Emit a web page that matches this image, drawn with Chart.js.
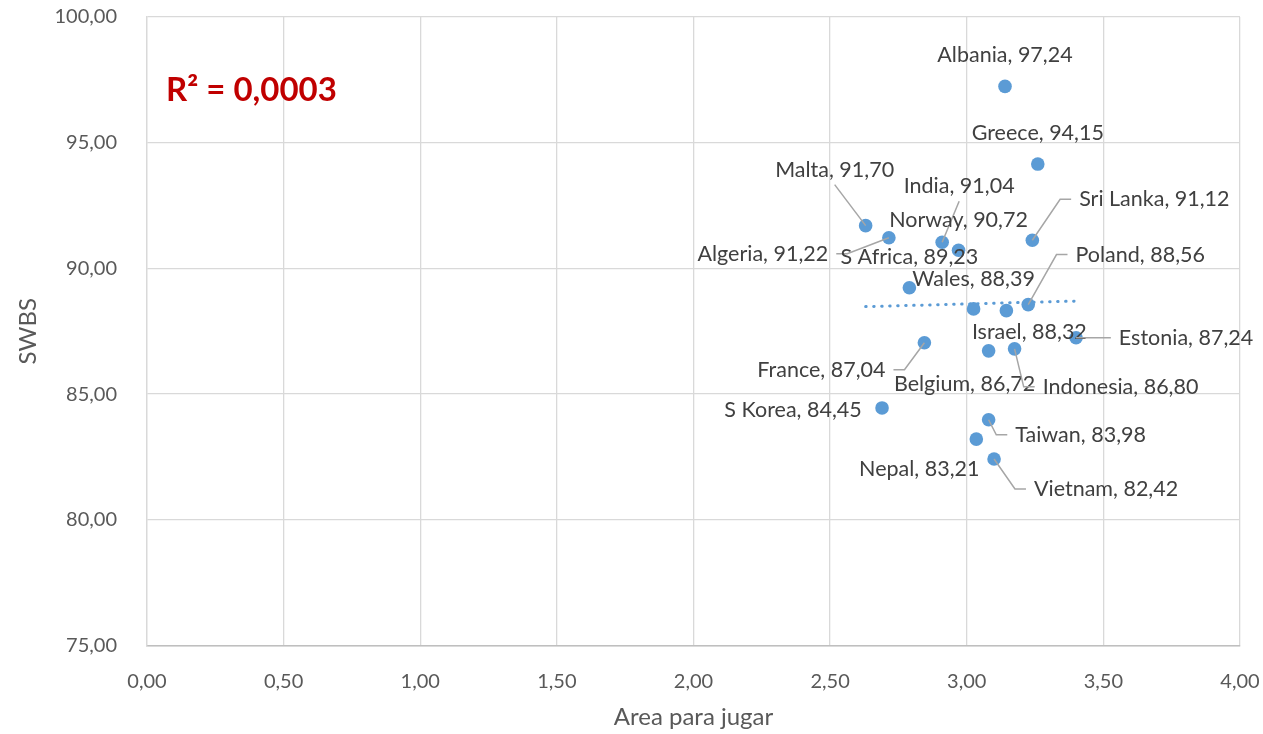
<!DOCTYPE html>
<html>
<head>
<meta charset="utf-8">
<script src="https://cdn.jsdelivr.net/npm/chart.js@4/dist/chart.umd.min.js"></script>
<style>
  html, body { margin: 0; padding: 0; background: #fff; }
  canvas { display: block; }
</style>
</head>
<body>
<canvas id="chart" width="1263" height="734"></canvas>
<script>
const countries = ["Albania", "Greece", "Malta", "Algeria", "India", "Norway", "Sri Lanka",
  "S Africa", "Wales", "Israel", "Poland", "Estonia", "France", "Belgium", "Indonesia",
  "S Korea", "Taiwan", "Nepal", "Vietnam"];
const areaValues = [3.14, 3.26, 2.63, 2.715, 2.91, 2.97, 3.24,
  2.79, 3.025, 3.145, 3.225, 3.40, 2.845, 3.08, 3.175,
  2.69, 3.08, 3.035, 3.10];
const swbsValues = [97.24, 94.15, 91.70, 91.22, 91.04, 90.72, 91.12,
  89.23, 88.39, 88.32, 88.56, 87.24, 87.04, 86.72, 86.80,
  84.45, 83.98, 83.21, 82.42];

// linear trend line
const trendX = [2.63, 3.40];
const trendY = [88.48, 88.70];

const xTicks = [0, 0.5, 1, 1.5, 2, 2.5, 3, 3.5, 4];
const yTicks = [75, 80, 85, 90, 95, 100];
const rSquaredText = "R² = 0,0003";

// label placement: [dx, dy, leader] relative to the marker, in pixels
const labelLayout = [
  [0, -31, "none"], [0, -31, "none"], [-31, -56, "bottom"], [-126, 16, "right"],
  [17, -56, "bottom"], [0, -30, "none"], [122, -41, "left"],
  [0, -31, "none"], [0, -30, "none"], [23, 21, "none"], [112, -50, "left"],
  [110, 0, "left"], [-103, 27, "right"], [-24, 33, "none"], [106, 38, "left"],
  [-89, 2, "none"], [92, 15, "left"], [-57, 30, "none"], [112, 30, "left"]
];

const fmt = v => v.toFixed(2).replace(".", ",");
const blue = "#5B9BD5";

const pointLabels = {
  id: "pointLabels",
  afterDatasetsDraw(chart) {
    const ctx = chart.ctx;
    const meta = chart.getDatasetMeta(0);
    ctx.save();
    ctx.font = "21.5px Lato";
    ctx.textAlign = "center";
    ctx.textBaseline = "middle";
    meta.data.forEach((pt, i) => {
      const [dx, dy, leader] = labelLayout[i];
      const text = countries[i] + ", " + fmt(swbsValues[i]);
      const tx = pt.x + dx, ty = pt.y + dy;
      const w = ctx.measureText(text).width;
      ctx.strokeStyle = "#a6a6a6";
      ctx.lineWidth = 1.5;
      if (leader === "left") {
        const ex = tx - w / 2 - 8;
        ctx.beginPath();
        ctx.moveTo(pt.x, pt.y);
        ctx.lineTo(Math.max(ex - 11, pt.x), ty);
        ctx.lineTo(ex, ty);
        ctx.stroke();
      } else if (leader === "right") {
        const ex = tx + w / 2 + 8;
        ctx.beginPath();
        ctx.moveTo(pt.x, pt.y);
        ctx.lineTo(Math.min(ex + 11, pt.x), ty);
        ctx.lineTo(ex, ty);
        ctx.stroke();
      } else if (leader === "bottom") {
        ctx.beginPath();
        ctx.moveTo(tx, ty + 15);
        ctx.lineTo(pt.x, pt.y);
        ctx.stroke();
      }
      ctx.fillStyle = "#404040";
      ctx.fillText(text, tx, ty);
    });
    // R squared annotation
    const area = chart.chartArea;
    ctx.font = "bold 33px Lato";
    ctx.textAlign = "left";
    ctx.fillStyle = "#C00000";
    ctx.fillText(rSquaredText, area.left + 19, area.top + 73);
    ctx.restore();
  }
};

new Chart(document.getElementById("chart"), {
  type: "scatter",
  data: {
    datasets: [{
      label: "SWBS",
      data: areaValues.map((x, i) => ({ x: x, y: swbsValues[i] })),
      backgroundColor: blue,
      borderColor: blue,
      pointRadius: 6.8,
      pointHoverRadius: 6.8,
      borderWidth: 0
    }, {
      label: "Trend",
      type: "line",
      data: trendX.map((x, i) => ({ x: x, y: trendY[i] })),
      borderColor: blue,
      borderWidth: 3,
      borderDash: [0.5, 7.5],
      borderCapStyle: "round",
      pointRadius: 0,
      fill: false
    }]
  },
  options: {
    responsive: false,
    devicePixelRatio: 1,
    animation: false,
    layout: { padding: { left: 0, right: 23, top: 17, bottom: 0 } },
    plugins: {
      legend: { display: false },
      tooltip: { enabled: false }
    },
    scales: {
      x: {
        type: "linear",
        min: 0,
        max: 4,
        afterBuildTicks: s => { s.ticks = xTicks.map(v => ({ value: v })); },
        afterFit: s => { s.height = 88.5; s.paddingLeft = 0; s.paddingRight = 0; },
        ticks: { callback: v => fmt(v), color: "#595959", font: { family: "Lato", size: 20 }, padding: 24, maxRotation: 0 },
        grid: { color: "#d9d9d9", lineWidth: 1.3, drawTicks: false },
        border: { color: "#bfbfbf", width: 1.5 },
        title: { display: true, text: "Area para jugar", color: "#595959", font: { family: "Lato", size: 24 }, padding: { bottom: 2 } }
      },
      y: {
        min: 75,
        max: 100,
        afterBuildTicks: s => { s.ticks = yTicks.map(v => ({ value: v })); },
        afterFit: s => { s.width = 147; s.paddingTop = 0; s.paddingBottom = 0; },
        ticks: { callback: v => fmt(v), color: "#595959", font: { family: "Lato", size: 20 }, padding: 30 },
        grid: { color: "#d9d9d9", lineWidth: 1.3, drawTicks: false },
        border: { color: "#d9d9d9", width: 1.3 },
        title: { display: true, text: "SWBS", color: "#595959", font: { family: "Lato", size: 24 }, padding: { top: 14 } }
      }
    }
  },
  plugins: [pointLabels]
});
</script>
</body>
</html>
